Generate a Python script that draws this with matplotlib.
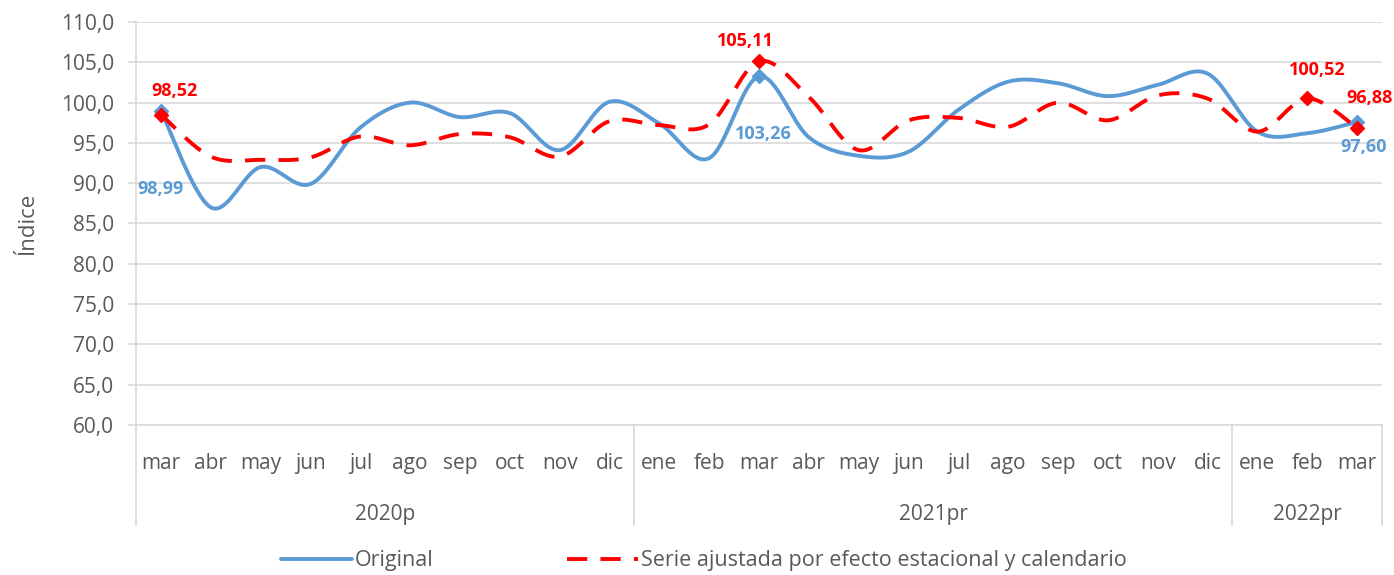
import matplotlib.pyplot as plt
import matplotlib.transforms as mtransforms
import numpy as np

plt.rcParams['font.family'] = ['Open Sans', 'DejaVu Sans']

# --- data ---
months = ["mar", "abr", "may", "jun", "jul", "ago", "sep", "oct", "nov", "dic",
          "ene", "feb", "mar", "abr", "may", "jun", "jul", "ago", "sep", "oct", "nov", "dic",
          "ene", "feb", "mar"]
years = ["2020p", "2021pr", "2022pr"]
year_counts = [10, 12, 3]

original = [98.99, 87.0, 92.0, 89.9, 96.9, 100.0, 98.2, 98.7, 94.1, 100.1,
            97.4, 93.1, 103.26, 95.7, 93.4, 93.9, 99.1, 102.6, 102.4, 100.8, 102.2, 103.6,
            96.4, 96.2, 97.60]
ajustada = [98.52, 93.3, 92.9, 93.2, 95.8, 94.7, 96.1, 95.7, 93.3, 97.7,
            97.2, 97.3, 105.11, 100.7, 94.1, 97.8, 98.1, 97.0, 100.0, 97.8, 100.9, 100.5,
            96.4, 100.52, 96.88]

blue = "#5B9BD5"
red = "#FF0000"
grey = "#595959"


def smooth(y, n=20):
    # Catmull-Rom style curve like Excel's smoothed line
    y = np.asarray(y, float)
    x = np.arange(len(y), dtype=float)
    xs, ys = [], []
    for i in range(len(y) - 1):
        p0 = (x[i - 1], y[i - 1]) if i > 0 else (x[i], y[i])
        p1 = (x[i], y[i])
        p2 = (x[i + 1], y[i + 1])
        p3 = (x[i + 2], y[i + 2]) if i + 2 < len(y) else (x[i + 1], y[i + 1])
        c1 = (p1[0] + (p2[0] - p0[0]) / 6, p1[1] + (p2[1] - p0[1]) / 6)
        c2 = (p2[0] - (p3[0] - p1[0]) / 6, p2[1] - (p3[1] - p1[1]) / 6)
        t = np.linspace(0, 1, n, endpoint=(i == len(y) - 2))
        for a, b in ((0, xs), (1, ys)):
            b.extend((1 - t) ** 3 * p1[a] + 3 * (1 - t) ** 2 * t * c1[a]
                     + 3 * (1 - t) * t ** 2 * c2[a] + t ** 3 * p2[a])
    return np.array(xs), np.array(ys)


fig = plt.figure(figsize=(13.94, 5.75), dpi=100)
ax = fig.add_axes([136 / 1394, 1 - 425 / 575, (1382 - 136) / 1394, 403 / 575])

x = np.arange(len(months))
sx, sy = smooth(original)
ax.plot(sx, sy, color=blue, lw=2.8, label="Original", zorder=3, solid_capstyle='round')
sx, sy = smooth(ajustada)
ax.plot(sx, sy, color=red, lw=2.8, dashes=(5.2, 3.4), label="Serie ajustada por efecto estacional y calendario",
        zorder=4)

# markers on highlighted points
mo = [0, 12, 24]
ma = [0, 12, 23, 24]
ax.plot(x[mo], np.array(original)[mo], 'D', color=blue, ms=7, zorder=5)
ax.plot(x[ma], np.array(ajustada)[ma], 'D', color=red, ms=7, zorder=6)

fmt = lambda v: f"{v:.2f}".replace(".", ",")
lab = dict(fontsize=13, fontweight='bold', textcoords='offset points', ha='center')
ax.annotate(fmt(ajustada[0]), (x[0], ajustada[0]), xytext=(10, 13), color=red, **lab)
ax.annotate(fmt(ajustada[12]), (x[12], ajustada[12]), xytext=(-10, 11), color=red, **lab)
ax.annotate(fmt(ajustada[23]), (x[23], ajustada[23]), xytext=(7, 17), color=red, **lab)
ax.annotate(fmt(ajustada[24]), (x[24], ajustada[24]), xytext=(9, 18), color=red, **lab)
ax.annotate(fmt(original[0]), (x[0], original[0]), xytext=(0, -60), color=blue, **lab)
ax.annotate(fmt(original[12]), (x[12], original[12]), xytext=(3, -45), color=blue, **lab)
ax.annotate(fmt(original[24]), (x[24], original[24]), xytext=(5, -22), color=blue, **lab)

# axes
ax.set_xlim(-0.5, len(months) - 0.5)
ax.set_ylim(60, 110)
ax.set_yticks(np.arange(60, 110.1, 5))
ax.set_yticklabels([f"{v:.1f}".replace(".", ",") for v in np.arange(60, 110.1, 5)])
ax.grid(axis='y', color="#D9D9D9", lw=1.2, zorder=0)
for s in ['top', 'right']:
    ax.spines[s].set_visible(False)
ax.spines['left'].set_color("#D9D9D9")
ax.spines['bottom'].set_color("#D9D9D9")
ax.spines['left'].set_linewidth(1.2)
ax.spines['bottom'].set_linewidth(1.2)
ax.tick_params(axis='y', colors="#D9D9D9", length=6, width=1.2, labelcolor=grey, labelsize=15, pad=10)
ax.set_xticks(x)
ax.set_xticklabels(months)
ax.tick_params(axis='x', length=0, labelcolor=grey, labelsize=15, pad=20)
ax.set_ylabel("Índice", color=grey, fontsize=16, labelpad=16)

# multilevel category axis
tr = mtransforms.blended_transform_factory(ax.transData, ax.transAxes)
edges = np.concatenate([[0], np.cumsum(year_counts)]) - 0.5
for e in edges:
    ax.plot([e, e], [0, -0.248], color="#D9D9D9", lw=1.2, transform=tr, clip_on=False)
for i, yname in enumerate(years):
    ax.text((edges[i] + edges[i + 1]) / 2, -0.222, yname, transform=tr, ha='center', va='center',
            color=grey, fontsize=15)

fig.legend(loc='lower center', bbox_to_anchor=(0.505, -0.027), ncol=2, frameon=False, fontsize=15.5,
           handlelength=3.3, columnspacing=6.2, handletextpad=0.15, labelcolor=grey)

fig.savefig("out.png", dpi=100)
